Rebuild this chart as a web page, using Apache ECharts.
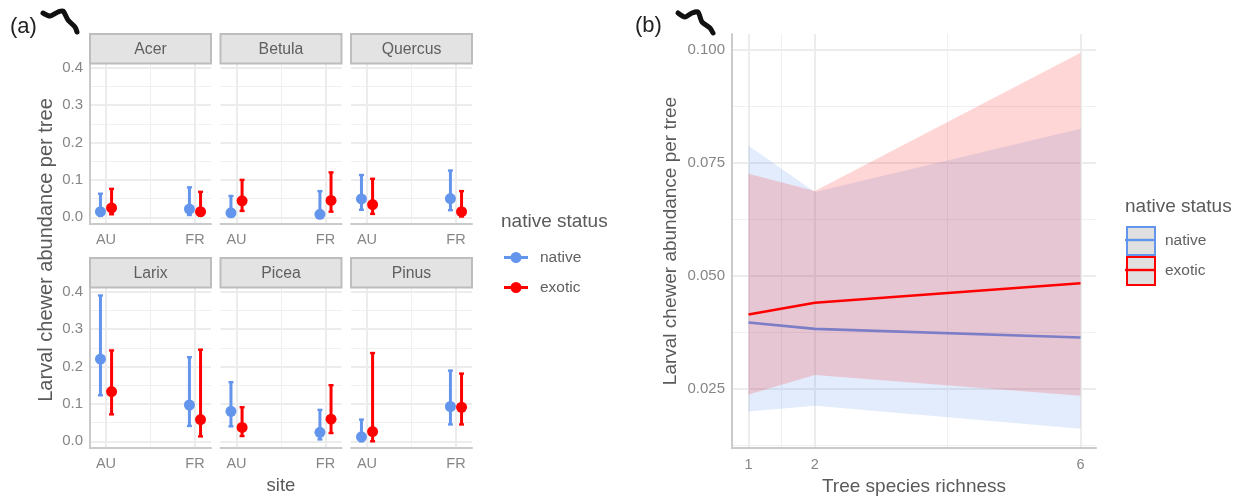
<!DOCTYPE html>
<html><head><meta charset="utf-8">
<style>html,body{margin:0;padding:0;background:#fff}#c{width:1242px;height:497px}</style>
<script src="https://cdn.jsdelivr.net/npm/echarts@6/dist/echarts.min.js"></script>
</head><body><div id="c"></div>
<script>
const species = ['Acer','Betula','Quercus','Larix','Picea','Pinus'];
const sites = ['AU','FR'];
const statusNames = ['native','exotic'];
const nativeMean = [[.015,.022],[.012,.008],[.049,.05],[.22,.097],[.08,.024],[.012,.093]];
const nativeLow  = [[.004,.006],[.002,.001],[.02,.019],[.123,.041],[.04,.005],[0,.045]];
const nativeHigh = [[.063,.08],[.057,.07],[.113,.125],[.39,.225],[.158,.084],[.058,.189]];
const exoticMean = [[.025,.015],[.044,.045],[.034,.015],[.133,.058],[.037,.059],[.026,.091]];
const exoticLow  = [[.008,.004],[.017,.015],[.009,.002],[.072,.013],[.014,.022],[0,.045]];
const exoticHigh = [[.076,.068],[.1,.12],[.103,.07],[.243,.245],[.091,.15],[.236,.181]];

const richness = [1,2,6];
const richnessNativeMean = [.0397,.0383,.0364];
const richnessNativeLow  = [.02,.0213,.0162];
const richnessNativeHigh = [.0788,.0686,.0826];
const richnessExoticMean = [.0415,.0441,.0484];
const richnessExoticLow  = [.0238,.0281,.0235];
const richnessExoticHigh = [.0726,.0688,.0994];

const BLUE='#6495ED', RED='#FF0000', FONT='"Liberation Sans",Arial,sans-serif';
const TICK='#868686', TITLE='#5a5a5a', GRID='#ececec', MINOR='#f0f0f0', AXIS='#cacaca';
const colLeft=[90,220.5,351], rowTop=[64,288], PW=121, PH=160, DODGE=.0625;

const grid=[], xAxis=[], yAxis=[], series=[], graphic=[];

function addAxes(idx,cfg){
  xAxis.push({gridIndex:idx,type:'value',min:cfg.xMin,max:cfg.xMax,
    name:cfg.xName||'',nameLocation:'middle',nameGap:cfg.xNameGap||27,
    nameTextStyle:{color:TITLE,fontSize:cfg.xNameSize||19,fontFamily:FONT},
    axisLine:{show:true,onZero:false,lineStyle:{color:AXIS,width:2}},axisTick:{show:false,customValues:cfg.xMajor},
    axisLabel:{customValues:cfg.xMajor,formatter:cfg.xFmt,color:TICK,fontSize:14.5,fontFamily:FONT,margin:cfg.xMargin},
    splitLine:{show:true,lineStyle:{color:GRID,width:2}}});
  xAxis.push({gridIndex:idx,type:'value',min:cfg.xMin,max:cfg.xMax,
    axisLine:{show:false},axisTick:{show:false,customValues:cfg.xMinor},
    axisLabel:{show:false,customValues:cfg.xMinor},splitLine:{show:true,lineStyle:{color:MINOR,width:1}}});
  yAxis.push({gridIndex:idx,type:'value',min:cfg.yMin,max:cfg.yMax,
    name:cfg.yName||'',nameLocation:'middle',nameGap:cfg.yNameGap||40,
    nameTextStyle:{color:TITLE,fontSize:19,fontFamily:FONT},
    axisLine:{show:cfg.yLine,lineStyle:{color:AXIS,width:2}},axisTick:{show:false,customValues:cfg.yMajor},
    axisLabel:{show:cfg.yLine,customValues:cfg.yMajor,formatter:cfg.yFmt,color:TICK,fontSize:15,fontFamily:FONT,margin:7},
    splitLine:{show:true,lineStyle:{color:GRID,width:2}}});
  yAxis.push({gridIndex:idx,type:'value',min:cfg.yMin,max:cfg.yMax,
    axisLine:{show:false},axisTick:{show:false,customValues:cfg.yMinor},
    axisLabel:{show:false,customValues:cfg.yMinor},splitLine:{show:true,lineStyle:{color:MINOR,width:1}}});
}

function errorBar(params,api){
  const x=api.value(0), lo=api.coord([x,api.value(1)]), hi=api.coord([x,api.value(2)]);
  const col=api.visual('color');
  const st={stroke:col,lineWidth:3,fill:'none'}, cap={stroke:col,lineWidth:2.4,fill:'none'};
  return {type:'group',children:[
    {type:'line',shape:{x1:lo[0],y1:lo[1],x2:hi[0],y2:hi[1]},style:st},
    {type:'line',shape:{x1:lo[0]-2.5,y1:lo[1],x2:lo[0]+2.5,y2:lo[1]},style:cap},
    {type:'line',shape:{x1:hi[0]-2.5,y1:hi[1],x2:hi[0]+2.5,y2:hi[1]},style:cap}]};
}

species.forEach((sp,i)=>{
  const col=i%3,row=Math.floor(i/3),left=colLeft[col],top=rowTop[row];
  grid.push({left,top,width:PW,height:PH,outerBoundsMode:'none'});
  addAxes(i,{xMin:.82,xMax:2.18,xMajor:[1,2],xMinor:[1.5],xFmt:v=>sites[Math.round(v)-1],xMargin:8.5,
    xName:i===4?'site':'',xNameGap:28,xNameSize:18.5,
    yMin:-.018,yMax:.41,yMajor:[0,.1,.2,.3,.4],yMinor:[.05,.15,.25,.35],yFmt:v=>v.toFixed(1),yLine:col===0});
  [[statusNames[0],BLUE,-DODGE,nativeMean,nativeLow,nativeHigh],
   [statusNames[1],RED,DODGE,exoticMean,exoticLow,exoticHigh]].forEach(([name,color,d,m,l,h],k)=>{
    const axes={xAxisIndex:i*2,yAxisIndex:i*2};
    series.push({type:'custom',name:name+' interval',...axes,z:3+k*2,clip:false,itemStyle:{color},
      encode:{x:0,y:[1,2]},renderItem:errorBar,
      data:sites.map((s,j)=>[j+1+d,l[i][j],h[i][j]])});
    series.push({type:'scatter',name,...axes,z:4+k*2,symbolSize:11,itemStyle:{color,opacity:1},clip:false,
      data:sites.map((s,j)=>[j+1+d,m[i][j]])});
  });
  graphic.push({type:'rect',z:10,shape:{x:left,y:top-30,width:PW,height:29.5},
    style:{fill:'#e3e3e3',stroke:'#bdbdbd',lineWidth:2}});
  graphic.push({type:'text',z:11,x:left+PW/2,y:top-14,
    style:{text:sp,fill:'#5f5f5f',font:'15.8px '+FONT,textAlign:'center',textVerticalAlign:'middle'}});
});

// panel (b)
const B=6;
grid.push({left:732,top:34,width:364,height:414,outerBoundsMode:'none'});
addAxes(B,{xMin:.7515,xMax:6.233,xMajor:richness,xMinor:[1.5,4],xFmt:v=>String(v),xMargin:9,
  xName:'Tree species richness',xNameGap:27,
  yMin:.01195,yMax:.10354,yMajor:[.025,.05,.075,.1],yMinor:[.0125,.0375,.0625,.0875],yFmt:v=>v.toFixed(3),yLine:true,
  yName:'Larval chewer abundance per tree',yNameGap:52});

function band(lo,hi,fill){
  return function(params,api){
    if(params.dataIndex!==0) return null;
    const pts=[];
    richness.forEach((r,j)=>pts.push(api.coord([r,hi[j]])));
    for(let j=richness.length-1;j>=0;j--) pts.push(api.coord([richness[j],lo[j]]));
    return {type:'polygon',shape:{points:pts},style:{fill}};
  };
}
[[statusNames[0],BLUE,'rgba(100,149,237,.18)',richnessNativeMean,richnessNativeLow,richnessNativeHigh],
 [statusNames[1],RED,'rgba(255,0,0,.16)',richnessExoticMean,richnessExoticLow,richnessExoticHigh]].forEach(([name,color,fill,m,l,h],k)=>{
  const axes={xAxisIndex:B*2,yAxisIndex:B*2};
  series.push({type:'custom',name:name+' band',...axes,z:2+k*2,itemStyle:{color},
    encode:{x:0,y:[1,2]},renderItem:band(l,h,fill),data:richness.map((r,j)=>[r,l[j],h[j]])});
  series.push({type:'line',name,...axes,z:3+k*2,showSymbol:false,symbol:'none',
    lineStyle:{color,width:2.6},itemStyle:{color},data:richness.map((r,j)=>[r,m[j]])});
});

// text and decorations
const txt=(x,y,text,font,fill,extra)=>graphic.push({type:'text',x,y,...extra,
  style:{text,fill,font:font+' '+FONT,textVerticalAlign:'middle',textAlign:(extra&&extra.align)||'left'}});
txt(10,27,'(a)','22px','#222');
txt(635,26,'(b)','22px','#222');
txt(46,250,'Larval chewer abundance per tree','20px',TITLE,{rotation:Math.PI/2,align:'center'});
txt(501,222,'native status','19px',TITLE);
txt(1125,207,'native status','19px',TITLE);
[[[43,13],[50,16],[58,12],[63,11],[68,20],[75,27],[77,32]],
 [[678,13],[685,17],[692,13],[698,12],[702,22],[710,28],[713,33]]].forEach(points=>{
  graphic.push({type:'polyline',z:12,shape:{points,smooth:.25},
    style:{stroke:'#111',lineWidth:5,fill:'none',lineCap:'round',lineJoin:'round'}});
});
// middle strokes of the panel (b) legend keys
[[1125,240,BLUE],[1125,270,RED]].forEach(([x,y,c])=>graphic.push({type:'line',z:30,
  shape:{x1:x,y1:y,x2:x+29,y2:y},style:{stroke:c,lineWidth:2.4}}));

const legendText={color:'#5f5f5f',fontSize:15.5,fontFamily:FONT};
const pointIcon='path://M0 4.5H24V7.5H0Z M6.5 6a5.5 5.5 0 1 1 11 0a5.5 5.5 0 1 1 -11 0Z';
const option={animation:false,backgroundColor:'#fff',grid,xAxis,yAxis,series,graphic,
  legend:[
    {left:504,top:249.5,padding:0,orient:'vertical',itemWidth:24,itemHeight:11,itemGap:14,icon:pointIcon,selectedMode:false,
     textStyle:{...legendText,padding:[0,0,0,7]},data:statusNames.map(name=>({name}))},
    {left:1126,top:226,padding:0,orient:'vertical',itemWidth:28,itemHeight:28,itemGap:0,icon:'rect',selectedMode:false,
     textStyle:{...legendText,padding:[0,0,0,5]},
     data:[{name:statusNames[0],itemStyle:{color:'#e0e0e0',borderColor:BLUE,borderWidth:2}},
           {name:statusNames[1],itemStyle:{color:'#e0e0e0',borderColor:RED,borderWidth:2}}]}
  ]};
echarts.init(document.getElementById('c')).setOption(option);
</script></body></html>
